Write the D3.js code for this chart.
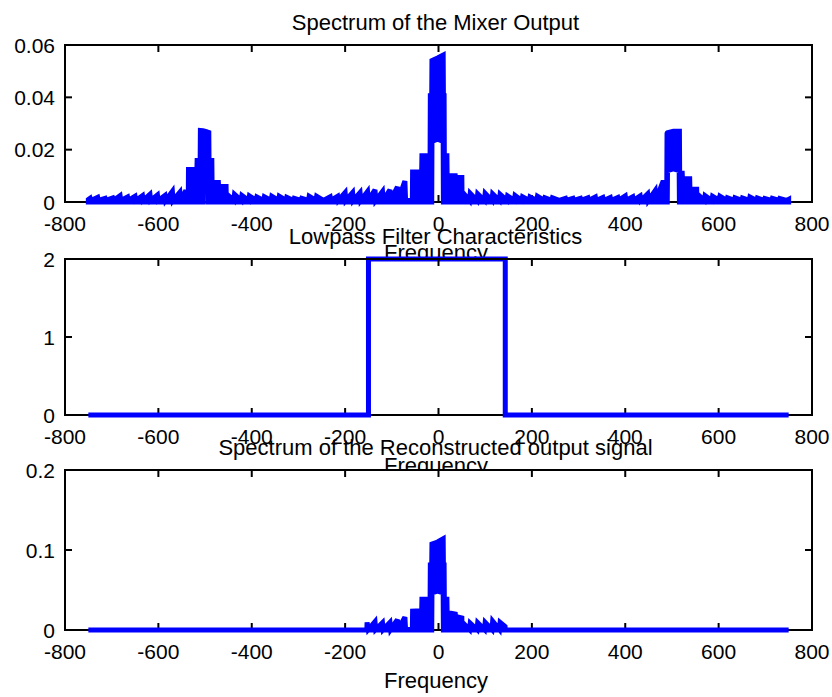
<!DOCTYPE html>
<html><head><meta charset="utf-8">
<script src="https://cdn.jsdelivr.net/npm/d3@7"></script>
<style>
body{margin:0;background:#fff}
svg{display:block}
text{font-family:"Liberation Sans",Arial,Helvetica,sans-serif;fill:#000}
</style>
</head><body>
<svg id="chart" width="832" height="697"></svg>
<script>
// ---------------- data ----------------
const titles = ["Spectrum of the Mixer Output", "Lowpass Filter Characteristics", "Spectrum of the Reconstructed output signal"];
const xLabel = "Frequency";
const xTicks = [-800, -600, -400, -200, 0, 200, 400, 600, 800];
const mixYTicks = [0, 0.02, 0.04, 0.06];
const mixYTickLabels = ["0", "0.02", "0.04", "0.06"];
const filtYTicks = [0, 1, 2];
const filtYTickLabels = ["0", "1", "2"];
const recYTicks = [0, 0.1, 0.2];
const recYTickLabels = ["0", "0.1", "0.2"];

// Spectrum of the mixer output: frequency, upper envelope, lower envelope
const mixFreq = [
 -750,-746,-744.5,-730,-728.5,-714,-712.5,-698,-696.5,-682,-680.5,-666,-664.5,-650,-648.5,-634,-632.5,-618,-616.5,-602,-600.5,-586,-584.5,-570,-568.5,-554,-552.5,-541,-539.5,-536,
 -535.5,-517.5,-517,-510.5,-510,-504.5,-504,-499,-494,-493.5,-492,-491.5,-485.5,-485,-471.5,-471,-455,-454.5,
 -453,-438.5,-437,-422.5,-421,-406.5,-405,-390.5,-389,-374.5,-373,-358.5,-357,-342.5,-341,-326.5,-325,-310.5,-309,-294.5,-293,-278.5,-277,-262.5,-261,-246.5,
 -232,-230.5,-216,-214.5,-200,-198.5,-184,-182.5,-168,-166.5,-152,-150.5,-136,-134.5,-120,-118.5,-104,-102.5,-88,-86.5,-72,-70.5,-56,
 -55.5,-36,-35.5,-18,-17.5,-14.5,-14,-2,10,10.5,12,12.5,18,18.5,36,36.5,50,50.5,
 52,66.5,68,82.5,84,98.5,100,114.5,116,130.5,132,146.5,148,162.5,164,178.5,180,194.5,196,210.5,212,226.5,228,242.5,244,258.5,
 272,273.5,288,289.5,304,305.5,320,321.5,336,337.5,352,353.5,368,369.5,384,385.5,400,401.5,416,417.5,432,433.5,448,449.5,464,465.5,
 480,489,489.5,490,490.5,503,515.5,516,516.5,522,522.5,538,538.5,553,553.5,
 555,569.5,571,585.5,587,601.5,603,617.5,619,633.5,635,649.5,651,665.5,667,681.5,683,697.5,699,713.5,715,729.5,731,745.5,750
];
const mixHigh = [
 .0009,.0014,.0006,.0018,.0006,.0014,.0006,.0015,.0006,.0024,.0006,.0019,.0006,.0022,.0006,.0024,.0006,.0029,.0006,.0027,.0006,.0025,.0006,.0041,.0006,.0037,.0006,.0044,.0006,.0006,
 .0124,.0124,.0159,.0159,.0273,.0272,.0272,.0270,.0267,.0267,.0266,.0159,.0159,.0075,.0075,.0059,.0059,.0006,
 .0029,.0006,.0029,.0006,.0025,.0006,.0023,.0006,.0019,.0006,.0020,.0006,.0022,.0006,.0022,.0006,.0018,.0006,.0014,.0006,.0014,.0006,.0022,.0006,.0022,.0006,
 .0020,.0006,.0022,.0006,.0036,.0006,.0036,.0006,.0036,.0006,.0040,.0006,.0046,.0006,.0040,.0006,.0046,.0006,.0058,.0006,.0080,.0006,.0006,
 .0115,.0115,.0177,.0177,.0406,.0406,.0540,.0550,.0561,.0406,.0406,.0177,.0177,.0100,.0100,.0094,.0094,.0006,
 .0036,.0006,.0033,.0006,.0031,.0006,.0033,.0006,.0031,.0006,.0029,.0006,.0023,.0006,.0025,.0006,.0020,.0006,.0019,.0006,.0022,.0006,.0016,.0006,.0016,.0006,
 .0014,.0006,.0014,.0006,.0014,.0006,.0016,.0006,.0019,.0006,.0017,.0006,.0017,.0006,.0017,.0006,.0023,.0006,.0020,.0006,.0023,.0006,.0031,.0006,.0043,.0006,
 .0075,.0075,.0262,.0264,.0265,.0270,.0270,.0270,.0110,.0110,.0089,.0089,.0049,.0049,.0006,
 .0029,.0006,.0024,.0006,.0022,.0006,.0022,.0006,.0016,.0006,.0016,.0006,.0015,.0006,.0019,.0006,.0015,.0006,.0013,.0006,.0014,.0006,.0013,.0006,.0010
];
const mixLow = [
 0,0,0,0,0,0,0,0,0,0,0,0,0,0,0,0,0,0,0,0,0,0,0,0,0,0,0,0,0,0,
 0,0,0,0,0,0,.0120,.0128,.0120,0,0,0,0,0,0,0,0,0,
 0,0,0,0,0,0,0,0,0,0,0,0,0,0,0,0,0,0,0,0,0,0,0,0,0,0,
 0,0,0,0,0,0,0,0,0,0,0,0,0,0,0,0,0,0,0,0,0,0,0,
 0,0,0,0,0,0,.0232,.0240,.0232,0,0,0,0,0,0,0,0,0,
 0,0,0,0,0,0,0,0,0,0,0,0,0,0,0,0,0,0,0,0,0,0,0,0,0,0,
 0,0,0,0,0,0,0,0,0,0,0,0,0,0,0,0,0,0,0,0,0,0,0,0,0,0,
 0,0,0,0,.0120,.0127,.0120,0,0,0,0,0,0,0,0,
 0,0,0,0,0,0,0,0,0,0,0,0,0,0,0,0,0,0,0,0,0,0,0,0,0
];

// Lowpass filter characteristics
const filtFreq = [-750, -150, -150, 143, 143, 750];
const filtGain = [0, 0, 2, 2, 0, 0];

// Spectrum of the reconstructed output signal
const recFreq = [
 -750,-153.5,-153,-150.5,-136,-134.5,-120,-118.5,-104,-102.5,-88,-86.5,-72,-70.5,-56,
 -55.5,-36,-35.5,-18,-17.5,-14.5,-14,-2,10,10.5,12,12.5,18,18.5,36,36.5,50,50.5,
 52,66.5,68,82.5,84,98.5,100,114.5,116,130.5,132,142.5,143,750
];
const recHigh = [
 0,0,.0095,.0006,.0105,.0006,.0090,.0006,.0095,.0006,.0130,.0006,.0160,.0006,.0006,
 .0235,.0240,.0385,.0385,.0812,.0812,.1075,.1100,.1140,.0812,.0812,.0385,.0385,.0220,.0200,.0170,.0150,.0006,
 .0090,.0006,.0085,.0006,.0090,.0006,.0095,.0006,.0110,.0006,.0095,.0045,0,0
];
const recLow = [
 0,0,0,0,0,0,0,0,0,0,0,0,0,0,0,
 0,0,0,0,0,0,.0464,.0485,.0464,0,0,0,0,0,0,0,0,0,
 0,0,0,0,0,0,0,0,0,0,0,0,0,0,0
];

// ---------------- drawing ----------------
const W = 832, H = 697;
const svg = d3.select("#chart");
svg.append("rect").attr("width", W).attr("height", H).attr("fill", "#fff");

const x = d3.scaleLinear().domain([-800, 800]).range([65, 812]);
const BLUE = "#0000ff";
const TICK = 7;

const panels = [
  {top: 45, bottom: 202, dom: [0, 0.06], ticks: mixYTicks, labels: mixYTickLabels, title: titles[0], kind: "spec", f: mixFreq, hi: mixHigh, lo: mixLow},
  {top: 259, bottom: 415, dom: [0, 2], ticks: filtYTicks, labels: filtYTickLabels, title: titles[1], kind: "line", f: filtFreq, hi: filtGain},
  {top: 470, bottom: 630, dom: [0, 0.2], ticks: recYTicks, labels: recYTickLabels, title: titles[2], kind: "spec", f: recFreq, hi: recHigh, lo: recLow}
];

panels.forEach(p => {
  const g = svg.append("g");
  const y = d3.scaleLinear().domain(p.dom).range([p.bottom, p.top]);
  const x0 = x.range()[0], x1 = x.range()[1];
  g.append("rect").attr("x", x0).attr("y", p.top).attr("width", x1 - x0).attr("height", p.bottom - p.top).attr("fill", "#fff");

  g.append("line").attr("x1", x0 - 1).attr("x2", x1 + 1).attr("y1", p.bottom).attr("y2", p.bottom)
    .attr("stroke", "#000").attr("stroke-width", 2);
  xTicks.forEach(t => {
    g.append("line").attr("x1", x(t)).attr("x2", x(t)).attr("y1", p.bottom).attr("y2", p.bottom - TICK)
      .attr("stroke", "#000").attr("stroke-width", 2);
  });

  const idx = d3.range(p.f.length);
  if (p.kind === "spec") {
    const area = d3.area().x(i => x(p.f[i])).y0(i => y(p.lo[i])).y1(i => y(p.hi[i]));
    g.append("path").attr("d", area(idx)).attr("fill", BLUE).attr("stroke", BLUE)
      .attr("stroke-width", 5).attr("stroke-linejoin", "miter").attr("stroke-miterlimit", 3);
  } else {
    const line = d3.line().x(i => x(p.f[i])).y(i => y(p.hi[i]));
    g.append("path").attr("d", line(idx)).attr("fill", "none").attr("stroke", BLUE)
      .attr("stroke-width", 5).attr("stroke-linejoin", "miter").attr("stroke-linecap", "butt");
  }

  g.append("line").attr("x1", x0 - 1).attr("x2", x1 + 1).attr("y1", p.top).attr("y2", p.top).attr("stroke", "#000").attr("stroke-width", 2);
  g.append("line").attr("x1", x0).attr("x2", x0).attr("y1", p.top).attr("y2", p.bottom).attr("stroke", "#000").attr("stroke-width", 2);
  g.append("line").attr("x1", x1).attr("x2", x1).attr("y1", p.top).attr("y2", p.bottom).attr("stroke", "#000").attr("stroke-width", 2);
  xTicks.forEach(t => {
    g.append("line").attr("x1", x(t)).attr("x2", x(t)).attr("y1", p.top).attr("y2", p.top + TICK)
      .attr("stroke", "#000").attr("stroke-width", 2);
  });
  p.ticks.forEach(t => {
    g.append("line").attr("x1", x0).attr("x2", x0 + TICK).attr("y1", y(t)).attr("y2", y(t)).attr("stroke", "#000").attr("stroke-width", 2);
    g.append("line").attr("x1", x1).attr("x2", x1 - TICK).attr("y1", y(t)).attr("y2", y(t)).attr("stroke", "#000").attr("stroke-width", 2);
  });

  xTicks.forEach(t => {
    g.append("text").attr("x", x(t)).attr("y", p.bottom + 28.5).attr("text-anchor", "middle")
      .attr("font-size", 21).text(String(t));
  });
  p.ticks.forEach((t, i) => {
    g.append("text").attr("x", 55).attr("y", y(t)).attr("dy", "0.36em").attr("text-anchor", "end")
      .attr("font-size", 21).text(p.labels[i]);
  });

  g.append("text").attr("x", 435.5).attr("y", p.top - 15.5).attr("text-anchor", "middle")
    .attr("font-size", 22).text(p.title);
  g.append("text").attr("x", 436).attr("y", p.bottom + 58).attr("text-anchor", "middle")
    .attr("font-size", 22).text(xLabel);
});
</script>
</body></html>
